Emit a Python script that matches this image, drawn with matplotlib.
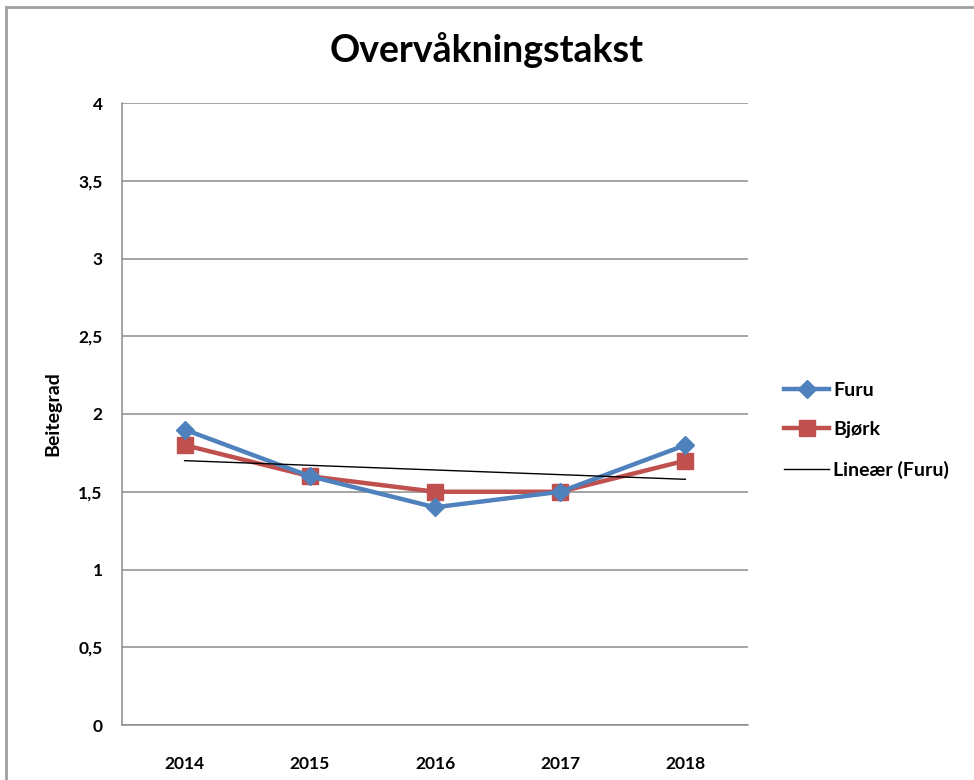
import matplotlib
matplotlib.use("Agg")
import matplotlib.pyplot as plt
import numpy as np
from matplotlib.patches import Rectangle
from matplotlib.ticker import FuncFormatter

years = ["2014", "2015", "2016", "2017", "2018"]
furu = [1.9, 1.6, 1.4, 1.5, 1.8]
bjork = [1.8, 1.6, 1.5, 1.5, 1.7]
title = "Overvåkningstakst"
ylabel = "Beitegrad"

plt.rcParams['font.family'] = ['Lato', 'DejaVu Sans']

fig = plt.figure(figsize=(9.74, 7.8), dpi=100)
ax = fig.add_axes([122/974, 1-725/780, (748-122)/974, (725-103)/780])

x = np.arange(len(years))
ax.plot(x, furu, color='#4F81BD', lw=3.2, marker='D', ms=9, label='Furu', zorder=4)
ax.plot(x, bjork, color='#C0504D', lw=3.2, marker='s', ms=11, label='Bjørk', zorder=3)
coef = np.polyfit(x, furu, 1)
ax.plot(x, np.polyval(coef, x), color='black', lw=1.0, label='Lineær (Furu)', zorder=5)

ax.set_xlim(-0.5, len(years) - 0.5)
ax.set_ylim(0, 4)
ax.set_yticks(np.arange(0, 4.01, 0.5))
ax.yaxis.set_major_formatter(FuncFormatter(lambda v, p: ('%g' % v).replace('.', ',')))
ax.set_xticks(x)
ax.set_xticklabels(years)
ax.tick_params(length=0, labelsize=12.5)
ax.tick_params(axis='x', pad=22)
ax.tick_params(axis='y', pad=14)
for lab in ax.get_xticklabels() + ax.get_yticklabels():
    lab.set_fontweight('bold')
ax.grid(axis='y', color='#8c8c8c', lw=1.1)
ax.set_axisbelow(True)
for s in ['top', 'right']:
    ax.spines[s].set_visible(False)
for s in ['left', 'bottom']:
    ax.spines[s].set_color('#8c8c8c')
    ax.spines[s].set_linewidth(1.1)

ax.set_ylabel(ylabel, fontsize=14, fontweight='bold', labelpad=12)
fig.text(0.5, 1-50/780, title, ha='center', va='center', fontsize=27, fontweight='bold')

leg = ax.legend(loc='center left', bbox_to_anchor=(1.03, 0.474), frameon=False,
                fontsize=14, handlelength=2.3, labelspacing=1.15, handletextpad=0.2)
for t in leg.get_texts():
    t.set_fontweight('bold')

fig.add_artist(Rectangle((6/974, -0.1), 1.2, 1 - 7/780 + 0.1, transform=fig.transFigure,
                         fill=False, edgecolor='#a0a0a0', lw=2))

fig.savefig('out.png', dpi=100)
